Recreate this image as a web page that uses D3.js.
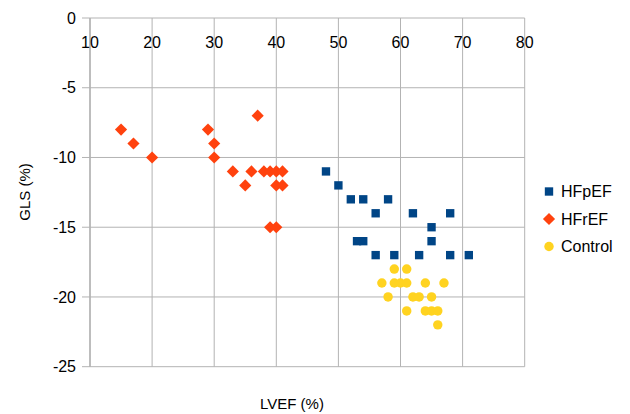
<!DOCTYPE html>
<html>
<head>
<meta charset="utf-8">
<script src="https://cdn.jsdelivr.net/npm/d3@7"></script>
<style>
  body { margin: 0; background: #fff; }
  text { font-family: "Liberation Sans", Arial, sans-serif; fill: #000; }
</style>
</head>
<body>
<div id="chart"></div>
<script>
// data: [LVEF, GLS]
var hfpefLvef = [48, 50, 52, 54, 58, 56, 62, 68, 65, 53, 54, 65, 56, 59, 63, 68, 71];
var hfpefGls  = [-11, -12, -13, -13, -13, -14, -14, -14, -15, -16, -16, -16, -17, -17, -17, -17, -17];

var hfrefLvef = [15, 17, 20, 29, 30, 30, 37, 33, 35, 36, 38, 39, 40, 41, 40, 41, 39, 40];
var hfrefGls  = [-8, -9, -10, -8, -9, -10, -7, -11, -12, -11, -11, -11, -11, -11, -12, -12, -15, -15];

var controlLvef = [59, 61, 57, 59, 60, 61, 64, 67, 58, 62, 63, 65, 61, 64, 65, 66, 66];
var controlGls  = [-18, -18, -19, -19, -19, -19, -19, -19, -20, -20, -20, -20, -21, -21, -21, -21, -22];

var xTicks = [10, 20, 30, 40, 50, 60, 70, 80];
var yTicks = [0, -5, -10, -15, -20, -25];

var seriesNames = ["HFpEF", "HFrEF", "Control"];
var seriesColors = ["#004586", "#ff420e", "#ffd320"];

var svgWidth = 630;
var svgHeight = 414;

var margin = { top: 18, right: 105, bottom: 47, left: 90 };
var width = 524.7 - margin.left;
var height = 366.7 - margin.top;

var svg = d3.select("#chart")
    .append("svg")
    .attr("width", svgWidth)
    .attr("height", svgHeight);

var chartGroup = svg.append("g")
    .attr("transform", `translate(${margin.left}, ${margin.top})`);

var xScale = d3.scaleLinear().domain([10, 80]).range([0, width]);
var yScale = d3.scaleLinear().domain([-25, 0]).range([height, 0]);

// vertical grid lines
chartGroup.selectAll(".vgrid")
    .data(xTicks)
    .enter()
    .append("line")
    .attr("x1", d => xScale(d))
    .attr("x2", d => xScale(d))
    .attr("y1", 0)
    .attr("y2", height)
    .attr("stroke", "#b3b3b3")
    .attr("stroke-width", 1);

// horizontal grid lines (with outward tick)
chartGroup.selectAll(".hgrid")
    .data(yTicks)
    .enter()
    .append("line")
    .attr("x1", -8)
    .attr("x2", width)
    .attr("y1", d => yScale(d))
    .attr("y2", d => yScale(d))
    .attr("stroke", "#b3b3b3")
    .attr("stroke-width", 1);

// y axis line
chartGroup.append("line")
    .attr("x1", 0).attr("x2", 0)
    .attr("y1", 0).attr("y2", height)
    .attr("stroke", "#b3b3b3")
    .attr("stroke-width", 1.5);

// x tick labels sit just under the zero line
chartGroup.selectAll(".xlab")
    .data(xTicks)
    .enter()
    .append("text")
    .attr("x", d => xScale(d))
    .attr("y", yScale(0) + 30)
    .attr("text-anchor", "middle")
    .style("font-size", "16px")
    .text(d => d);

// y tick labels
chartGroup.selectAll(".ylab")
    .data(yTicks)
    .enter()
    .append("text")
    .attr("x", -14)
    .attr("y", d => yScale(d))
    .attr("dy", "0.35em")
    .attr("text-anchor", "end")
    .style("font-size", "16px")
    .text(d => d);

// axis titles
svg.append("text")
    .attr("x", 292)
    .attr("y", 409)
    .attr("text-anchor", "middle")
    .style("font-size", "15px")
    .text("LVEF (%)");

svg.append("text")
    .attr("transform", "translate(30, 192) rotate(-90)")
    .attr("text-anchor", "middle")
    .style("font-size", "15px")
    .text("GLS (%)");

var shapes = [
    d3.symbol().type(d3.symbolSquare).size(70),
    d3.symbol().type(d3.symbolSquare).size(74),
    d3.symbol().type(d3.symbolCircle).size(70)
];
var rotations = [0, 45, 0];

function toPoints(xs, ys) {
    return xs.map((x, i) => ({ x: x, y: ys[i] }));
}

var allSeries = [
    toPoints(hfpefLvef, hfpefGls),
    toPoints(hfrefLvef, hfrefGls),
    toPoints(controlLvef, controlGls)
];

// draw control first so squares sit on top like the original
[2, 1, 0].forEach(function (s) {
    chartGroup.selectAll(".pt" + s)
        .data(allSeries[s])
        .enter()
        .append("path")
        .attr("d", shapes[s])
        .attr("transform", d => `translate(${xScale(d.x)}, ${yScale(d.y)}) rotate(${rotations[s]})`)
        .attr("fill", seriesColors[s]);
});

// legend
var legend = svg.append("g").attr("transform", "translate(549, 191.5)");

seriesNames.forEach(function (name, i) {
    legend.append("path")
        .attr("d", shapes[i])
        .attr("transform", `translate(0, ${i * 27.5}) rotate(${rotations[i]})`)
        .attr("fill", seriesColors[i]);
    legend.append("text")
        .attr("x", 12)
        .attr("y", i * 27.5)
        .attr("dy", "0.35em")
        .style("font-size", "16px")
        .text(name);
});
</script>
</body>
</html>
